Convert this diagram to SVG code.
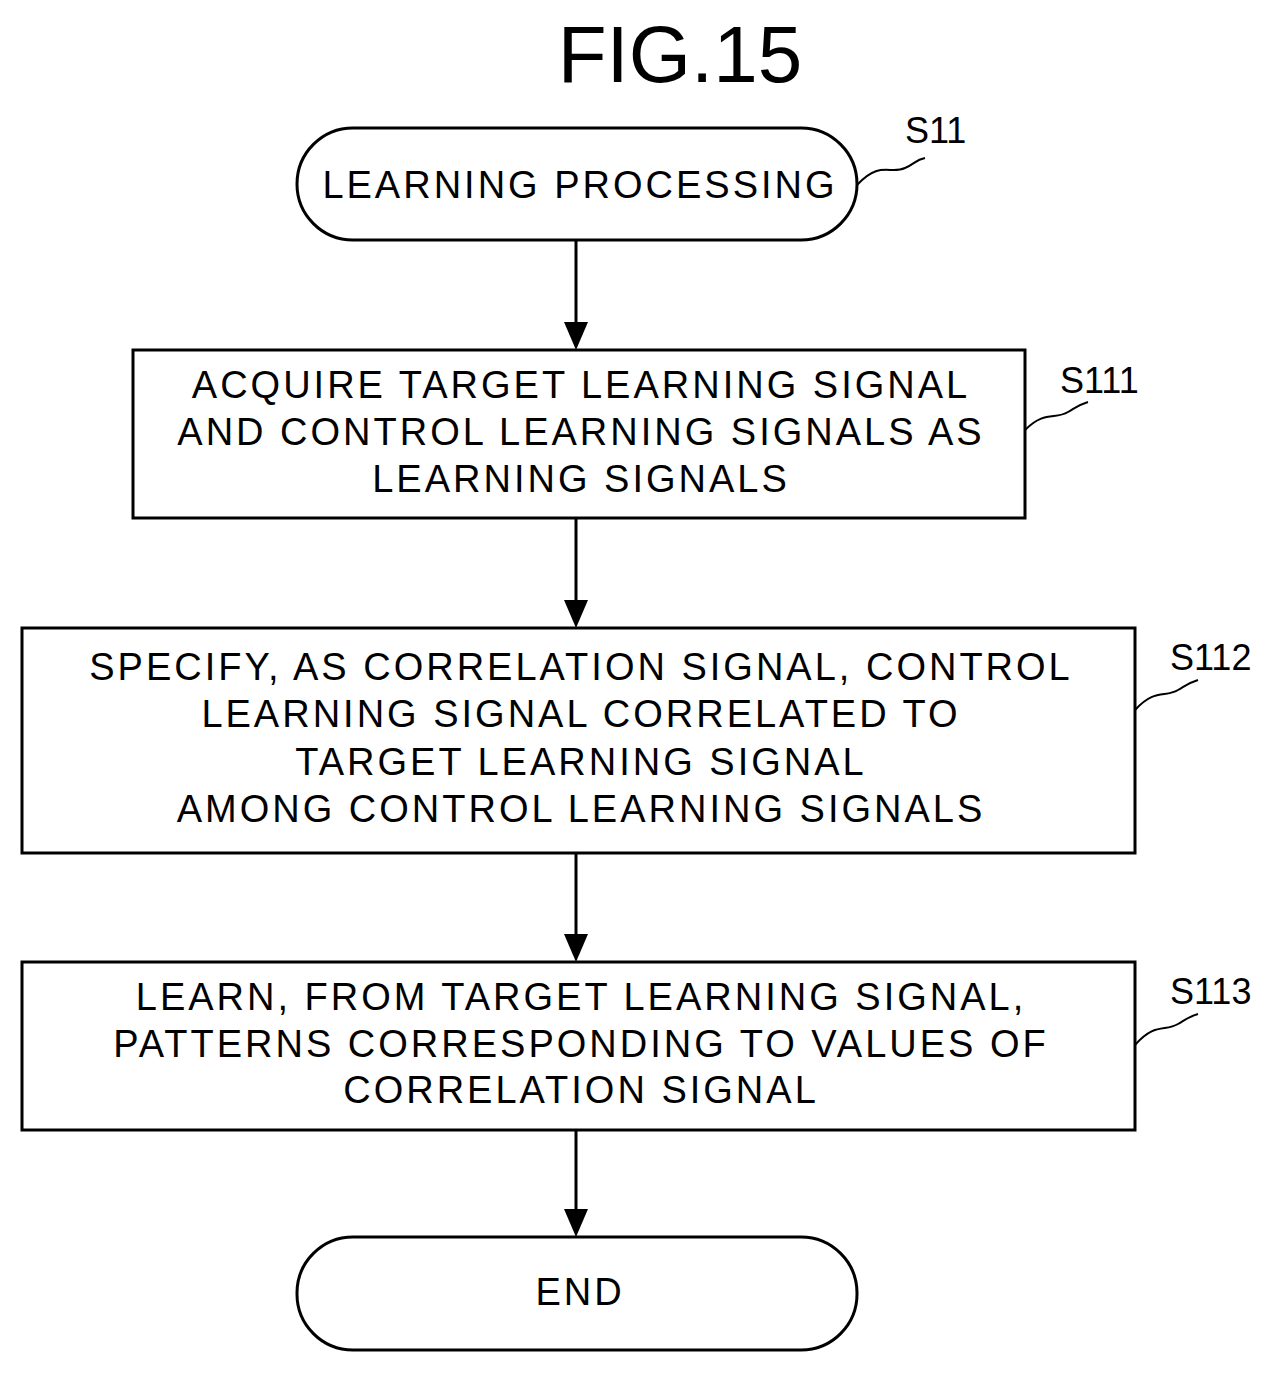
<svg xmlns="http://www.w3.org/2000/svg" width="1285" height="1373" viewBox="0 0 1285 1373">
<defs>
<style>
.s{fill:#fff;stroke:#000;stroke-width:3}
.t{font-family:"Liberation Sans",Arial,sans-serif;font-size:38px;text-anchor:middle;fill:#000;letter-spacing:3px}
.l{font-family:"Liberation Sans",Arial,sans-serif;font-size:36px;fill:#000}
.c{fill:none;stroke:#000;stroke-width:2}
.a{stroke:#000;stroke-width:3;fill:none}
</style>
</defs>
<rect width="1285" height="1373" fill="#fff"/>
<text x="680" y="82" font-family="Liberation Sans,Arial,sans-serif" font-size="80" text-anchor="middle">FIG.15</text>
<g id="connectors">
<line class="a" x1="576" y1="241" x2="576" y2="328"/><path d="M564,322 L576,350 L588,322 z"/>
<line class="a" x1="576" y1="519" x2="576" y2="606"/><path d="M564,600 L576,628 L588,600 z"/>
<line class="a" x1="576" y1="854" x2="576" y2="940"/><path d="M564,934 L576,962 L588,934 z"/>
<line class="a" x1="576" y1="1131" x2="576" y2="1215"/><path d="M564,1209 L576,1237 L588,1209 z"/>
</g>
<g id="S11">
<rect class="s" x="297" y="128" width="560" height="112" rx="56"/>
<text class="t" x="580" y="198">LEARNING PROCESSING</text>
<path class="c" d="M857,185 C880,160 890,175 905,168 C915,164 915,160 925,158"/>
<text class="l" x="905" y="143">S11</text>
</g>
<g id="S111">
<rect class="s" x="133" y="350" width="892" height="168"/>
<text class="t" x="581" y="398">ACQUIRE TARGET LEARNING SIGNAL</text>
<text class="t" x="581" y="445">AND CONTROL LEARNING SIGNALS AS</text>
<text class="t" x="581" y="492">LEARNING SIGNALS</text>
<path class="c" d="M1025,430 C1045,410 1055,420 1068,412 C1075,408 1078,405 1088,402"/>
<text class="l" x="1060" y="393">S111</text>
</g>
<g id="S112">
<rect class="s" x="22" y="628" width="1113" height="225"/>
<text class="t" x="581" y="680">SPECIFY, AS CORRELATION SIGNAL, CONTROL</text>
<text class="t" x="581" y="727">LEARNING SIGNAL CORRELATED TO</text>
<text class="t" x="581" y="775">TARGET LEARNING SIGNAL</text>
<text class="t" x="581" y="822">AMONG CONTROL LEARNING SIGNALS</text>
<path class="c" d="M1135,710 C1155,688 1165,698 1178,690 C1185,686 1188,683 1198,680"/>
<text class="l" x="1170" y="670">S112</text>
</g>
<g id="S113">
<rect class="s" x="22" y="962" width="1113" height="168"/>
<text class="t" x="581" y="1010">LEARN, FROM TARGET LEARNING SIGNAL,</text>
<text class="t" x="581" y="1057">PATTERNS CORRESPONDING TO VALUES OF</text>
<text class="t" x="581" y="1103">CORRELATION SIGNAL</text>
<path class="c" d="M1135,1045 C1155,1022 1165,1032 1178,1024 C1185,1020 1188,1017 1198,1014"/>
<text class="l" x="1170" y="1004">S113</text>
</g>
<g id="END">
<rect class="s" x="297" y="1237" width="560" height="113" rx="56"/>
<text class="t" x="580" y="1305">END</text>
</g>
</svg>
